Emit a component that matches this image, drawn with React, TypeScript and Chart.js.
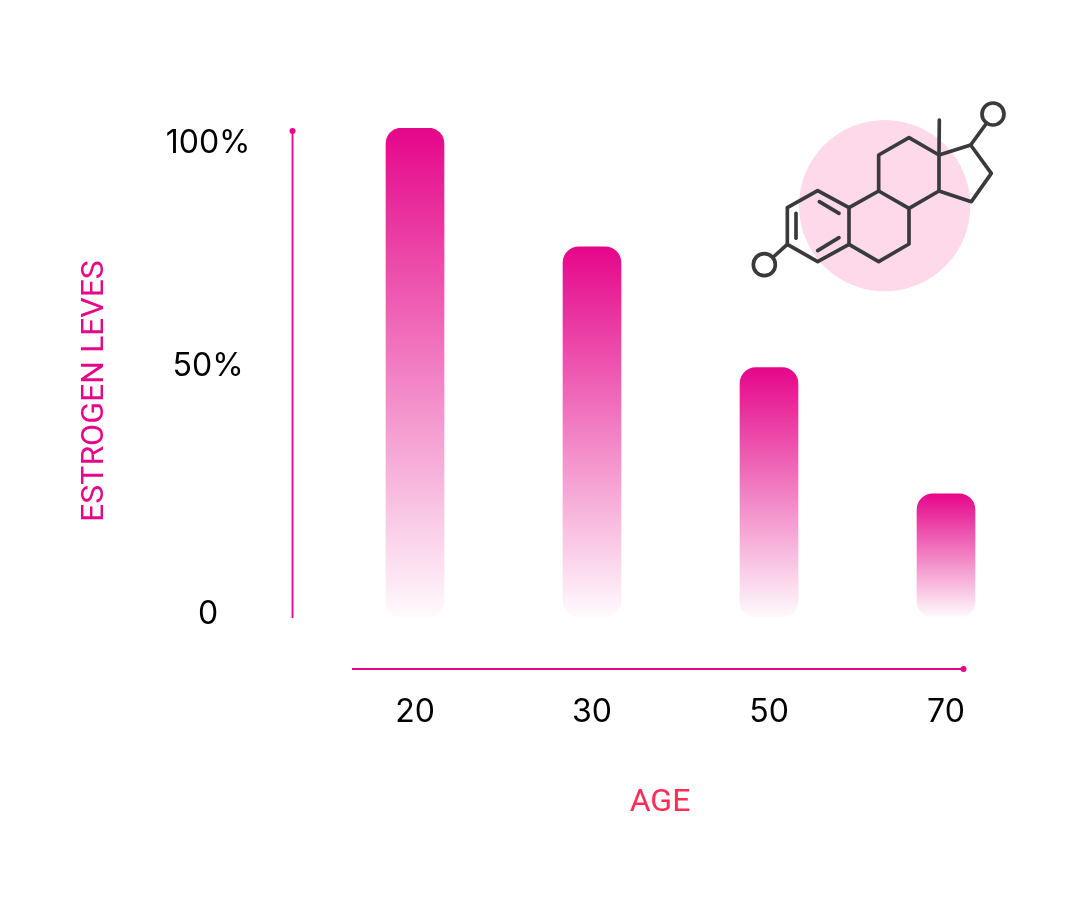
import React, { useEffect, useRef } from "react";
import { Chart, registerables } from "chart.js";

Chart.register(...registerables);

const ages = ["20", "30", "50", "70"];
const estrogenLevels = [100, 75.7, 51, 25.2];
const yTickValues = [0.6, 51.2, 96.9];
const yTickLabels = ["0", "50%", "100%"];

const PINK = "#e5068a";
const FONT = "Inter";

const moleculePlugin = {
  id: "decor",
  afterDraw(chart: any) {
    const c = chart.ctx;
    const { y } = chart.scales;
    const left = 292.5;
    const y0 = y.getPixelForValue(0);
    const y100 = y.getPixelForValue(100);
    // axis lines with end dots
    c.save();
    c.strokeStyle = PINK;
    c.fillStyle = PINK;
    c.lineWidth = 1.8;
    c.beginPath();
    c.moveTo(left, y100 + 3);
    c.lineTo(left, y0 + 1);
    c.moveTo(352, 669);
    c.lineTo(964, 669);
    c.stroke();
    c.beginPath();
    c.arc(left, y100 + 3, 3, 0, Math.PI * 2);
    c.fill();
    c.beginPath();
    c.arc(963.5, 669, 3, 0, Math.PI * 2);
    c.fill();

    // axis titles
    c.font = `400 32px Roboto`;
    c.textAlign = "center";
    c.textBaseline = "middle";
    c.fillStyle = "#ff2d55";
    c.fillText("AGE", 660, 803);
    c.fillStyle = PINK;
    c.translate(95, 391);
    c.rotate(-Math.PI / 2);
    c.fillText("ESTROGEN LEVES", 0, 0);
    c.restore();

    // molecule
    c.save();
    c.translate(740, 90);
    c.scale(1 / 3, 1 / 3);
    c.fillStyle = "#fdd9ea";
    c.beginPath();
    c.arc(434, 347, 257, 0, Math.PI * 2);
    c.fill();
    c.strokeStyle = "#3a3a3c";
    c.lineWidth = 11;
    c.lineJoin = "round";
    c.lineCap = "round";
    const paths = [
      [[142, 353], [233, 302], [327, 353], [327, 463], [233, 515], [142, 463], [142, 353]],
      [[327, 353], [416, 303], [507, 355], [507, 462], [416, 515], [327, 463]],
      [[416, 303], [416, 195], [507, 143], [597, 195], [597, 303], [507, 355]],
      [[597, 195], [692, 165], [754, 250], [694, 335], [597, 303]],
      [[597, 195], [598, 90]],
      [[692, 165], [738, 102]],
      [[142, 463], [100, 501]],
      [[238, 335], [297, 370]],
      [[168, 370], [168, 445]],
      [[233, 482], [297, 443]],
    ];
    for (const p of paths) {
      c.beginPath();
      p.forEach(([px, py], i) => (i ? c.lineTo(px, py) : c.moveTo(px, py)));
      c.stroke();
    }
    for (const [cx, cy] of [[759, 72], [73, 524]]) {
      c.beginPath();
      c.arc(cx, cy, 33, 0, Math.PI * 2);
      c.fillStyle = "#ffffff";
      c.fill();
      c.stroke();
    }
    c.restore();
  },
};

export default function App() {
  const ref = useRef<HTMLCanvasElement>(null);
  useEffect(() => {
    const chart = new Chart(ref.current!, {
      type: "bar",
      data: {
        labels: ages,
        datasets: [
          {
            data: estrogenLevels,
            barThickness: 58,
            borderRadius: 16,
            borderSkipped: false,
            backgroundColor: (ctx: any) => {
              const { chart: ch, parsed } = ctx;
              if (!ch.chartArea || !parsed) return PINK;
              const yS = ch.scales.y;
              const g = ch.ctx.createLinearGradient(0, yS.getPixelForValue(parsed.y), 0, yS.getPixelForValue(0));
              g.addColorStop(0, "#e5068a");
              g.addColorStop(1, "rgba(229,6,138,0.02)");
              return g;
            },
          },
        ],
      },
      options: {
        responsive: false,
        animation: false,
        layout: { padding: { top: 128, right: 45.5, left: 0, bottom: 0 } },
        plugins: { legend: { display: false }, tooltip: { enabled: false } },
        scales: {
          x: {
            grid: { display: false },
            border: { display: false },
            ticks: {
              color: "#000000",
              font: { family: FONT, size: 32, weight: "400" },
              padding: 68,
              maxRotation: 0,
            },
            afterFit: (s: any) => {
              s.height = 297;
            },
          },
          y: {
            min: 0,
            max: 100,
            grid: { display: false },
            border: { display: false },
            afterBuildTicks: (s: any) => {
              s.ticks = yTickValues.map((value) => ({ value }));
            },
            ticks: {
              color: "#000000",
              autoSkip: false,
              crossAlign: "center",
              padding: 68,
              font: { family: FONT, size: 32, weight: "400" },
              callback: (_v: any, i: number) => yTickLabels[i],
            },
            afterFit: (s: any) => {
              s.width = 326.5;
            },
          },
        },
      },
      plugins: [moleculePlugin],
    } as any);
    return () => chart.destroy();
  }, []);
  return (
    <canvas
      ref={ref}
      width={1080}
      height={914}
      style={{ position: "absolute", left: 0, top: 0, width: 1080, height: 914, display: "block" }}
    />
  );
}
